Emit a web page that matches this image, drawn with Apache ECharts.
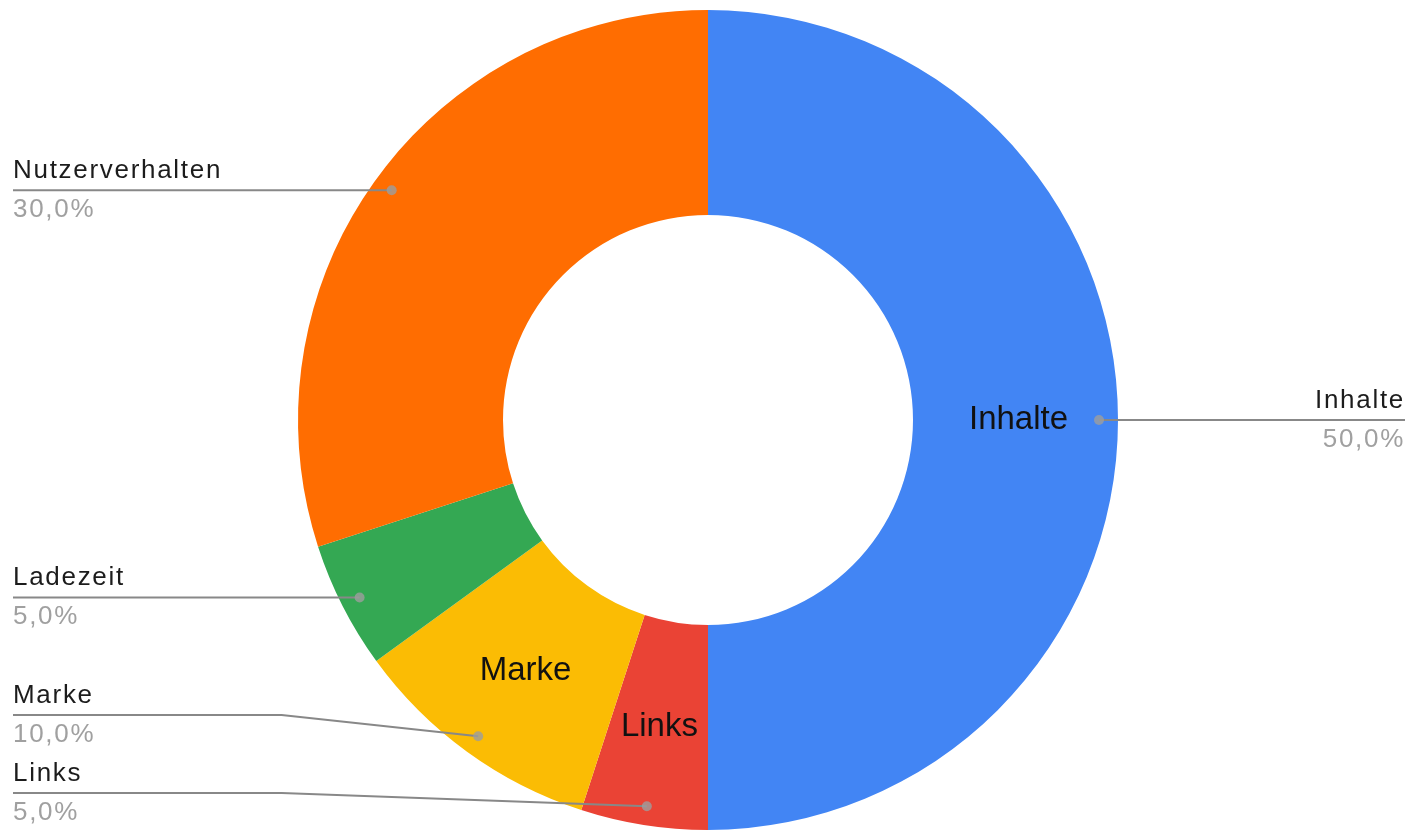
<!DOCTYPE html>
<html>
<head>
<meta charset="utf-8">
<script src="https://cdn.jsdelivr.net/npm/echarts@6/dist/echarts.min.js"></script>
<style>
html,body{margin:0;padding:0;background:#fff;}
#chart{width:1410px;height:832px;}
</style>
</head>
<body>
<div id="chart"></div>
<script>
// ---- data ----
const categories = ['Inhalte', 'Links', 'Marke', 'Ladezeit', 'Nutzerverhalten'];
const values = [50, 5, 10, 5, 30];
const insideLabelNames = ['Inhalte', 'Marke', 'Links'];

// ---- styling / layout constants ----
const colors = ['#4285F4', '#EA4335', '#FBBC04', '#34A853', '#FF6D01'];
const CX = 708, CY = 420, R_IN = 205, R_OUT = 410, R_DOT = 391;
const FONT = '"Liberation Sans", Arial, sans-serif';
const LINE_H = 39;            // line height of the outer two-line labels
const LABEL_H = 2 * LINE_H;   // height of one outer label block

// outer labels in the reference are slightly letter-spaced
(function () {
  const orig = CanvasRenderingContext2D.prototype.fillText;
  CanvasRenderingContext2D.prototype.fillText = function () {
    if ('letterSpacing' in this) {
      this.letterSpacing = /\b26px/.test(this.font) ? '1.7px' : '0px';
    }
    return orig.apply(this, arguments);
  };
})();

const total = values.reduce((a, b) => a + b, 0);
let acc = 0;
const mids = values.map(v => { const m = acc + v / 2; acc += v; return m; });

const pieData = categories.map((c, i) => ({
  name: c, value: values[i],
  label: { show: insideLabelNames.indexOf(c) >= 0 }
}));
const outerData = categories.map((c, i) => ({
  name: c, value: values[i],
  label: { edgeDistance: mids[i] < total / 2 ? 5 : 13 }
}));
const dotData = mids.map(m => [R_DOT, m]);

const chart = echarts.init(document.getElementById('chart'), null, { renderer: 'canvas' });
const VIEW_H = chart.getHeight();

// simple label stacking (per side): keep natural height, push apart, keep inside view
const labelY = (function () {
  const info = mids.map((m, i) => {
    const a = 2 * Math.PI * m / total;
    return { i: i, left: Math.sin(a) < 0, y: CY - R_DOT * Math.cos(a) };
  });
  const out = [];
  [true, false].forEach(side => {
    const list = info.filter(d => d.left === side).sort((a, b) => a.y - b.y);
    let prevBottom = -Infinity;
    list.forEach(d => { d.y = Math.max(d.y, prevBottom + LABEL_H / 2, LABEL_H / 2); prevBottom = d.y + LABEL_H / 2; });
    let nextTop = VIEW_H;
    for (let k = list.length - 1; k >= 0; k--) {
      const d = list[k];
      d.y = Math.min(d.y, nextTop - LABEL_H / 2);
      nextTop = d.y - LABEL_H / 2;
    }
    list.forEach(d => { out[d.i] = d.y; });
  });
  return out;
})();

chart.setOption({
  animation: false,
  color: colors,
  polar: { center: [CX, CY], radius: R_OUT },
  angleAxis: { type: 'value', min: 0, max: total, startAngle: 90, clockwise: true, show: false },
  radiusAxis: { type: 'value', min: 0, max: R_OUT, show: false },
  series: [
    {
      type: 'pie',
      center: [CX, CY],
      radius: [R_IN, R_OUT],
      startAngle: 90,
      clockwise: true,
      silent: true,
      data: pieData,
      label: {
        position: 'inside',
        fontFamily: FONT,
        fontSize: 33,
        color: '#111',
        formatter: '{b}'
      },
      labelLine: { show: false },
      itemStyle: { borderWidth: 0 }
    },
    {
      type: 'pie',
      center: [CX, CY],
      radius: [0, R_DOT],
      startAngle: 90,
      clockwise: true,
      silent: true,
      avoidLabelOverlap: false,
      z: 3,
      data: outerData,
      itemStyle: { color: 'rgba(0,0,0,0)' },
      label: {
        show: true,
        position: 'outer',
        alignTo: 'edge',
        fontFamily: FONT,
        formatter: p => '{n|' + p.name + '}\n{p|' + p.percent.toFixed(1).replace('.', ',') + '%}',
        rich: {
          n: { fontFamily: FONT, fontSize: 26, color: '#1c1c1c', lineHeight: LINE_H },
          p: { fontFamily: FONT, fontSize: 26, color: '#a0a0a0', lineHeight: LINE_H }
        }
      },
      labelLine: {
        show: true,
        length: 0,
        length2: 10,
        smooth: false,
        lineStyle: { color: '#888', width: 2 }
      },
      labelLayout: function (params) {
        const pts = params.labelLinePoints;
        if (!pts || !pts.length) return {};
        const p0 = pts[0];
        const r = params.labelRect;
        const yLab = labelY[params.dataIndex];
        const left = r.x + r.width / 2 < CX;
        const endX = left ? r.x : r.x + r.width;
        const bendX = left ? Math.min(p0[0], CX - R_OUT * 1.04) : Math.max(p0[0], CX + R_OUT * 1.04);
        return { y: yLab, labelLinePoints: [p0, [bendX, yLab], [endX, yLab]] };
      }
    },
    {
      type: 'scatter',
      coordinateSystem: 'polar',
      data: dotData,
      symbol: 'circle',
      symbolSize: 10,
      z: 10,
      silent: true,
      itemStyle: { color: '#9e9e9e' }
    }
  ]
});
</script>
</body>
</html>
